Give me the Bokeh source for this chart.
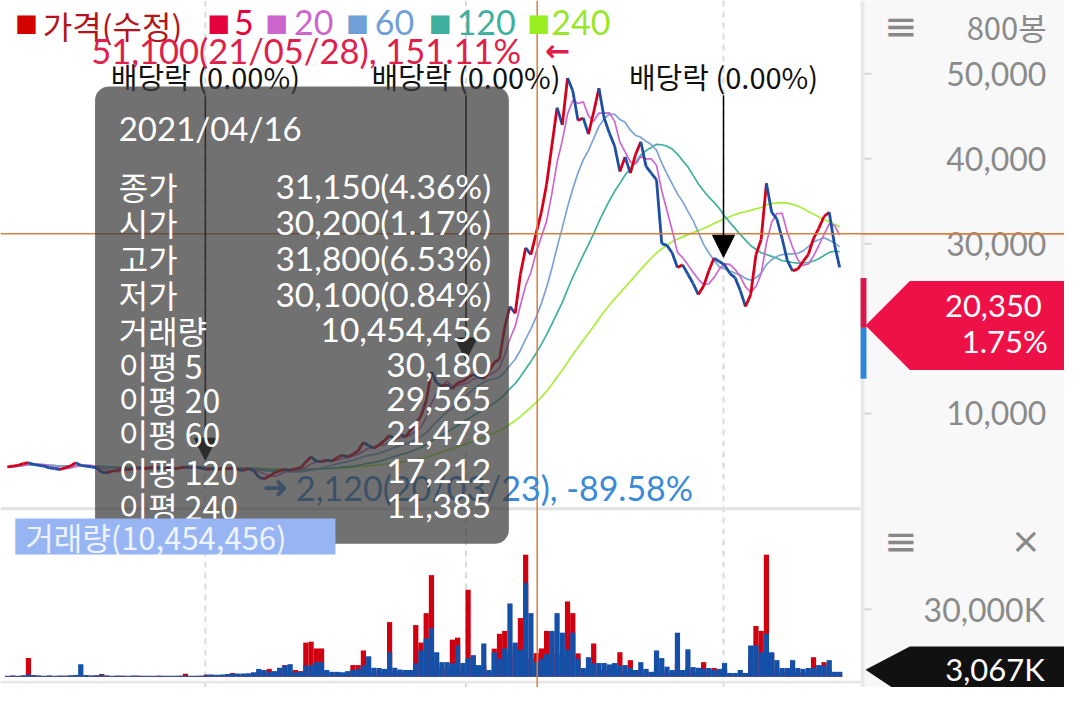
import numpy as np
import pandas as pd
from bokeh.plotting import figure
from bokeh.models import (ColumnDataSource, Range1d, Span, Label, BoxAnnotation,
                          PolyAnnotation, Arrow, NormalHead)
from bokeh.core.properties import value
from bokeh.embed import file_html
from bokeh.resources import INLINE

# ---------------- data (one sample every 5 daily bars, 800 bars shown) ----------------
BAR_STEP = 5
close_k = [
    3.7, 3.8, 3.9, 4.1, 4.2, 4.0, 3.9, 3.8, 3.6, 3.5,
    3.4, 3.6, 3.8, 4.2, 3.9, 3.8, 3.7, 3.6, 3.1, 3.0,
    3.2, 3.3, 3.5, 3.4, 3.5, 3.6, 3.5, 3.6, 3.7, 3.6,
    3.5, 3.6, 3.5, 3.6, 3.7, 3.6, 3.7, 3.6, 3.4, 3.5,
    3.4, 3.5, 3.5, 3.6, 3.4, 3.3, 3.5, 3.3, 2.5, 2.3,
    2.6, 3.0, 3.3, 3.4, 3.3, 3.5, 3.6, 4.3, 4.9, 4.4,
    4.3, 4.5, 4.4, 4.8, 5.1, 4.9, 5.2, 5.6, 6.6, 6.2,
    5.9, 6.3, 6.8, 7.4, 7.0, 7.6, 7.2, 8.0, 8.8, 9.7,
    11.5, 14.9, 13.6, 13.2, 13.4, 12.9, 13.6, 13.8, 14.2, 14.6,
    14.3, 14.1, 15.0, 16.0, 16.4, 20.2, 22.6, 21.8, 26.4, 29.5,
    28.7, 31.2, 33.7, 37.0, 41.5, 46.0, 44.0, 49.5, 48.0, 44.5,
    44.8, 42.9, 45.5, 48.3, 44.8, 43.0, 41.5, 38.5, 40.2, 38.3,
    40.5, 42.0, 39.1, 38.3, 37.5, 30.0, 29.8, 28.9, 27.2, 27.5,
    26.4, 25.3, 24.0, 25.0, 26.8, 28.3, 27.9, 27.5, 26.5, 26.0,
    24.5, 22.6, 24.0, 28.7, 30.5, 37.1, 33.7, 32.9, 30.6, 28.0,
    26.8, 27.0, 27.9, 28.7, 30.6, 31.8, 33.2, 33.7, 29.9, 27.2,
]
vol_up_m = [
    0.3, 0.4, 0.3, 0.5, 8.3, 0.6, 0.4, 0.3, 0.4, 0.3,
    0.3, 0.4, 0.3, 0.5, 0.4, 0.3, 0.4, 0.6, 1.2, 0.5,
    0.3, 0.3, 0.4, 0.3, 0.3, 0.4, 0.3, 0.3, 0.3, 0.4,
    0.3, 0.3, 0.3, 0.4, 1.3, 0.3, 0.3, 0.4,
    1.0, 0.5, 0.5, 0.6, 0.7, 1.7, 0.6, 0.8, 1.0, 1.2,
    2.0, 2.5, 3.5, 2.0, 2.4, 5.2, 2.5, 3.0, 2.5,
    15.2, 15.6, 12.6, 12.6, 2.0, 1.5, 1.8, 1.5, 2.0, 5.2,
    5.2, 11.7, 4.0, 2.0, 2.5, 2.0, 24.3, 2.5, 2.0, 2.0,
    2.0, 23.0, 15.2, 28.3, 45.2, 5.0, 4.0, 4.0, 16.5, 17.4,
    3.0, 38.7, 4.0, 3.0, 5.0, 2.0, 12.5, 19.1, 20.4, 10.0,
    13.9, 26.1, 54.3, 8.0, 10.5, 12.6, 20.4, 19.6, 10.0, 8.0,
    33.5, 28.3, 10.4, 2.0, 4.0, 14.8, 3.0, 3.0, 3.0, 3.0,
    10.9, 2.5, 7.4, 1.5, 3.0, 2.0, 1.5, 4.0, 3.0, 2.0,
    1.5, 6.0, 1.5, 4.0, 2.0, 2.0, 6.5, 2.0, 3.9, 2.0,
    3.0, 1.0, 1.0, 1.5, 1.0, 8.0, 22.6, 20.4, 54.3, 10.4,
    3.0, 2.0, 2.0, 3.0, 2.0, 2.0, 2.0, 8.7, 2.5, 6.5, 3.0, 1.0, 1.0,
]
vol_dn_m = [
    0.5, 0.6, 0.5, 0.7, 1.0, 0.8, 0.6, 0.5, 0.6, 0.5,
    0.6, 0.5, 0.7, 0.8, 5.6, 0.8, 0.6, 0.7, 0.9, 0.6,
    0.5, 0.6, 0.5, 0.5, 0.6, 0.5, 0.5, 0.4, 0.5, 0.5,
    0.5, 0.4, 0.5, 0.5, 0.6, 0.5, 0.5, 0.5,
    0.8, 1.0, 0.9, 1.0, 1.2, 1.3, 1.4, 1.5, 1.6, 2.0,
    3.5, 3.0, 2.2, 2.5, 4.0, 5.0, 5.6, 2.0, 2.2,
    5.0, 5.2, 6.5, 6.5, 3.0, 2.2, 2.2, 2.0, 2.5, 3.0,
    3.5, 5.0, 9.1, 4.0, 3.9, 3.5, 10.9, 4.0, 3.2, 3.0,
    3.0, 6.0, 11.7, 17.0, 21.7, 10.9, 6.5, 6.5, 6.0, 13.9,
    6.1, 8.3, 9.6, 5.2, 14.8, 3.0, 10.9, 8.0, 12.6, 32.6,
    15.2, 12.0, 41.7, 28.3, 6.5, 8.0, 10.0, 20.4, 28.3, 19.6,
    12.0, 19.6, 8.0, 3.9, 8.7, 6.0, 6.1, 6.1, 5.5, 6.1,
    5.0, 5.2, 4.0, 3.0, 6.5, 3.5, 2.2, 11.7, 8.3, 4.5,
    3.0, 19.6, 3.0, 12.2, 4.3, 4.0, 3.5, 3.9, 3.0, 3.5,
    6.1, 1.7, 1.7, 3.0, 1.7, 13.9, 14.0, 10.9, 19.1, 10.9,
    7.4, 3.9, 3.9, 7.4, 3.9, 3.5, 3.9, 4.0, 5.2, 5.0, 7.4, 2.2, 2.2,
]
assert len(close_k) == len(vol_up_m) == len(vol_dn_m) == 160

ma_periods = [20, 60, 120, 240]
ma_colors = ["#cc66cc", "#7aa3d6", "#3fb0a0", "#a8ee3a"]
legend_labels = ["가격(수정)", "5", "20", "60", "120", "240"]
legend_colors = ["#b3151b", "#e4003a", "#cc66cc", "#6f9fd6", "#3fb09f", "#99e62b"]
legend_square_colors = ["#d40000", "#e4003a", "#cc66cc", "#6f9fd6", "#3fb09f", "#99ee22"]

year_start_bar = [191, 440, 686]          # ex-dividend dates / year boundaries
div_tip_price = [4500, 16300, 28400]
div_text = "배당락 (0.00%)"

cross_bar = 508
cross_close = 31150
hi_text = "51,100(21/05/28), 151.11%"
lo_text = "2,120(20/03/23), -89.58%"

info_date = "2021/04/16"
info_names = ["종가", "시가", "고가", "저가", "거래량", "이평 5", "이평 20", "이평 60", "이평 120", "이평 240"]
info_values = ["31,150(4.36%)", "30,200(1.17%)", "31,800(6.53%)", "30,100(0.84%)", "10,454,456",
               "30,180", "29,565", "21,478", "17,212", "11,385"]

last_price = 20350
last_change = "1.75%"
last_volume = 3067000
last_volume_text = "3,067K"
vol_label = "거래량(10,454,456)"
price_ticks = [10000, 30000, 40000, 50000]
vol_ticks = [30000000]
vol_tick_labels = ["30,000K"]
bars_label = "800봉"

# ---------------- derived ----------------
close = np.array(close_k) * 1000.0
bars = np.arange(len(close)) * BAR_STEP + 2
vol_up = np.array(vol_up_m) * 1e6
vol_dn = np.array(vol_dn_m) * 1e6
s = pd.Series(close)
mas = [s.rolling(p // BAR_STEP, min_periods=1).mean().to_numpy() for p in ma_periods]
mas[3][:7] = np.nan

RED = "#d5001c"
BLUE = "#1d4fa3"
seg_col = [RED if b >= a else BLUE for a, b in zip(close[:-1], close[1:])]
seg_src = ColumnDataSource(dict(x0=bars[:-1], y0=close[:-1], x1=bars[1:], y1=close[1:], c=seg_col))

# ---------------- layout helpers (reference pixel -> data) ----------------
W, H = 1064, 687
def bx(px): return (px - 5) / 1.0625
def py(px): return (509.5 - px) / 8.69 * 1000
def vy(px): return (692 - px) / 69 * 30e6
def vol_px(v): return 692 - v / 30e6 * 69

KR = "Noto Sans CJK KR"
NUM = "Lato"
CROSS = "#d9803f"
GRAY_TXT = "#8a8a8a"

p = figure(width=W, height=H, x_range=Range1d(bx(0), bx(1080)), y_range=Range1d(py(703), py(0)),
           output_backend="svg", toolbar_location=None,
           x_axis_location=None, y_axis_location=None,
           min_border_left=0, min_border_top=0, min_border_bottom=0, min_border_right=0,
           background_fill_color="white", border_fill_color="white", outline_line_color=None)
p.grid.visible = False
p.extra_y_ranges = {"vol": Range1d(vy(703), vy(0))}

def lab(x, y, text, size, color, font=NUM, align="left", style="normal", rng="default"):
    p.add_layout(Label(x=x, y=y, text=text, text_font_size=f"{size}px", text_color=color,
                       text_font=font, text_align=align, text_baseline="middle",
                       text_font_style=style, y_range_name=rng))

# right panel background + border
p.add_layout(BoxAnnotation(left=bx(875), fill_color="#f8f8f8", fill_alpha=1, line_color=None, level="underlay"))
p.add_layout(BoxAnnotation(left=bx(873), right=bx(877), fill_color="#e9e9e9", fill_alpha=1,
                           line_color=None, level="underlay"))
for b in year_start_bar:
    p.add_layout(Span(location=b, dimension="height", line_color="#dadada", line_dash="6 5",
                      line_width=2, level="underlay"))

# ---- price glyphs
for m, c in zip(mas[::-1], ma_colors[::-1]):
    p.line(bars, m, line_color=c, line_width=1.7)
p.segment("x0", "y0", "x1", "y1", source=seg_src, line_color="c", line_width=2.8)

# ---- volume glyphs
p.vbar(x=bars, top=vol_up, width=BAR_STEP, fill_color="#d00010", line_color=None, y_range_name="vol")
p.vbar(x=bars, top=vol_dn, width=BAR_STEP, fill_color="#1450a8", line_color=None, y_range_name="vol")

# ---- right scales (ticks + labels)
p.segment(x0=[bx(877)] * len(price_ticks), x1=[bx(884)] * len(price_ticks), y0=price_ticks, y1=price_ticks,
          line_color="#d4d4d4", line_width=2)
p.text(x=[bx(960)] * len(price_ticks), y=price_ticks, text=[f"{t:,}" for t in price_ticks],
       text_font=value(NUM), text_font_size="32px", text_color=GRAY_TXT,
       text_baseline="middle", text_align="left")
p.segment(x0=[bx(877)] * len(vol_ticks), x1=[bx(884)] * len(vol_ticks), y0=vol_ticks, y1=vol_ticks,
          line_color="#d4d4d4", line_width=2, y_range_name="vol")
p.text(x=[bx(937)] * len(vol_ticks), y=vol_ticks, text=vol_tick_labels, y_range_name="vol",
       text_font=value(NUM), text_font_size="32px", text_color=GRAY_TXT,
       text_baseline="middle", text_align="left")

# ---- separators
p.add_layout(BoxAnnotation(left=bx(0), right=bx(873), top=py(518.5), bottom=py(521.5),
                           fill_color="#e2e2e2", fill_alpha=1, line_color=None))
p.add_layout(BoxAnnotation(left=bx(0), right=bx(873), top=py(696), bottom=py(699),
                           fill_color="#e8e8e8", fill_alpha=1, line_color=None))

# ---- crosshair
p.add_layout(Span(location=cross_close, dimension="width", line_color=CROSS, line_width=1.5))
p.add_layout(Span(location=cross_bar, dimension="height", line_color=CROSS, line_width=1.5))

# ---- ex-dividend arrows
for b, tip in zip(year_start_bar, div_tip_price):
    p.add_layout(Arrow(end=NormalHead(size=22, fill_color="black", line_color="black"),
                       x_start=b, y_start=py(97), x_end=b, y_end=tip,
                       line_color="black", line_width=1.5))
    lab(b, py(77), div_text, 29, "#111111", font=KR, align="center")

# ---- low marker (under info box)
lab(bx(266), py(498), "➜", 31, "#3a8ad8", font="DejaVu Sans")
lab(bx(300), py(498), lo_text, 34, "#3a8ad8")

# ---- info box
p.add_layout(BoxAnnotation(left=bx(96), right=bx(516), top=py(88), bottom=py(556),
                           fill_color="#3c3c3c", fill_alpha=0.73, line_color=None,
                           border_radius=14))
lab(bx(120), py(130), info_date, 33, "white")
row_y = [190, 227, 264, 300, 337, 373, 408, 443, 481, 517]
for n, v, ry in zip(info_names, info_values, row_y):
    lab(bx(120), py(ry), n, 32, "white", font=KR)
    lab(bx(498), py(ry), v, 33.5, "white", align="right")

# ---- volume title
p.add_layout(BoxAnnotation(left=bx(15), right=bx(340), top=py(530), bottom=py(567),
                           fill_color="#97b4f3", fill_alpha=1, line_color=None))
lab(bx(25), py(548), vol_label, 31, "#eef3ff", font=KR)

# ---- top legend
sq_x = [15, 210, 269, 351, 435, 535]
tx_x = [43, 237, 298, 380, 463, 559]
for t, c, sc, sx_, tx_ in zip(legend_labels, legend_colors, legend_square_colors, sq_x, tx_x):
    lab(bx(sx_), py(23), "■", 24, sc, font="DejaVu Sans")
    if t.isdigit():
        lab(bx(tx_), py(23), t, 34, c, font=NUM)
    else:
        lab(bx(tx_), py(25.5), t, 32, c, font=KR)

lab(bx(92), py(51), hi_text, 34.5, "#e0204a")
lab(bx(553), py(51), "←", 30, "#e0204a", font="DejaVu Sans", style="bold")

# ---- right panel items
p.add_layout(Arrow(start=None, end=None, x_start=bx(875), y_start=cross_close, x_end=bx(1085),
                   y_end=cross_close, line_color=CROSS, line_width=1.5))
lab(bx(897), py(26), "≡", 40, "#888888", font="DejaVu Sans")
lab(bx(1062), py(27), bars_label, 31, GRAY_TXT, font=KR, align="right")
p.add_layout(PolyAnnotation(xs=[bx(878), bx(923), bx(1090), bx(1090), bx(923)],
                            ys=[last_price, py(287), py(287), py(378), py(378)],
                            fill_color="#ee1148", fill_alpha=1, line_color=None))
p.add_layout(PolyAnnotation(xs=[bx(873), bx(879), bx(879), bx(873)],
                            ys=[py(284), py(284), py(335), py(335)],
                            fill_color="#d8184a", fill_alpha=1, line_color=None))
p.add_layout(PolyAnnotation(xs=[bx(873), bx(879), bx(879), bx(873)],
                            ys=[py(335), py(335), py(387), py(387)],
                            fill_color="#2f86d8", fill_alpha=1, line_color=None))
lab(bx(1057), py(313), f"{last_price:,}", 31, "white", align="right")
lab(bx(1063), py(348), last_change, 31, "white", align="right")

lab(bx(897), vy(553), "≡", 40, "#888888", font="DejaVu Sans", rng="vol")
lab(bx(1056), vy(553), "×", 36, "#888888", font="DejaVu Sans", align="right", rng="vol")
# volume tag drawn in the shared pixel frame (volume value converted to panel position)
p.add_layout(PolyAnnotation(xs=[bx(878), bx(923), bx(1090), bx(1090), bx(923)],
                            ys=[py(vol_px(last_volume)), py(661), py(661), py(715), py(715)],
                            fill_color="#111111", fill_alpha=1, line_color=None))
lab(bx(1060), vy(684), last_volume_text, 31, "white", align="right", rng="vol")

open("out.html", "w").write(file_html(p, INLINE))
